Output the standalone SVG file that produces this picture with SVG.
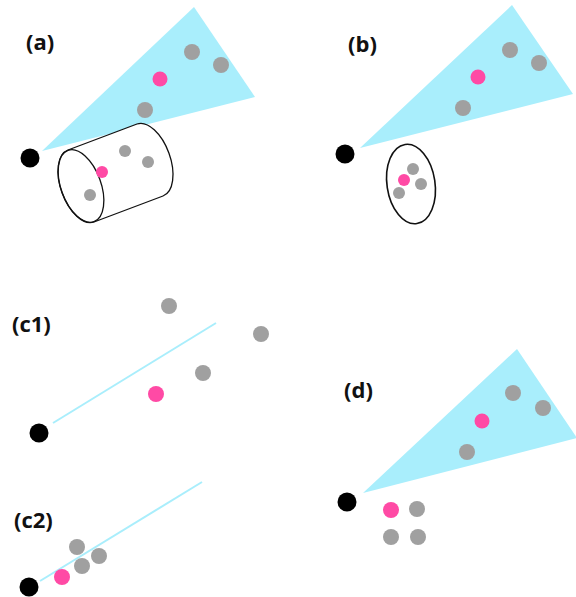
<svg xmlns="http://www.w3.org/2000/svg" width="576" height="597" viewBox="0 0 576 597">
<style>
.lbl{font-family:"Open Sans","Liberation Sans",sans-serif;font-weight:bold;font-size:22px;fill:#111}
.cone{fill:#a9eefc}
.g{fill:#a0a0a0}
.p{fill:#ff4aa5}
.k{fill:#000}
.ln{stroke:#a9eefc;stroke-width:2;fill:none}
.outline{fill:none;stroke:#111;stroke-width:1.3}
</style>
<rect width="576" height="597" fill="#fff"/>
<g id="panel-a">
<text class="lbl" x="26" y="50">(a)</text>
<polygon class="cone" points="42,151 194,7 255,97"/>
<circle class="g" cx="192" cy="52" r="8"/>
<circle class="g" cx="221" cy="65" r="8"/>
<circle class="g" cx="145" cy="110" r="8"/>
<circle class="p" cx="160" cy="79" r="7.5"/>
<circle class="k" cx="30" cy="158" r="9.5"/>
<path d="M94,222 A20,38 -20 0 1 68,150 L137,124 A20,38 -20 0 1 163,196 Z" fill="#fff" stroke="#111" stroke-width="1.3"/>
<ellipse class="outline" cx="81" cy="186" rx="20" ry="38" transform="rotate(-20 81 186)"/>
<circle class="g" cx="125" cy="151" r="6"/>
<circle class="g" cx="148" cy="162" r="6"/>
<circle class="g" cx="90" cy="195" r="6"/>
<circle class="p" cx="102" cy="172" r="6"/>
</g>
<g id="panel-b">
<text class="lbl" x="348" y="52">(b)</text>
<polygon class="cone" points="360,148 512,5 573,94"/>
<circle class="g" cx="510" cy="50" r="8"/>
<circle class="g" cx="539" cy="63" r="8"/>
<circle class="g" cx="463" cy="108" r="8"/>
<circle class="p" cx="478" cy="77" r="7.5"/>
<circle class="k" cx="345" cy="154" r="9.5"/>
<ellipse fill="none" stroke="#111" stroke-width="1.6" cx="411" cy="184" rx="24" ry="40" transform="rotate(-8.5 411 184)"/>
<circle class="g" cx="413" cy="169" r="6"/>
<circle class="g" cx="421" cy="184" r="6"/>
<circle class="g" cx="399" cy="193" r="6"/>
<circle class="p" cx="404" cy="180" r="6"/>
</g>
<g id="panel-c1">
<text class="lbl" x="12" y="332">(c1)</text>
<line class="ln" x1="53" y1="423" x2="216" y2="323"/>
<circle class="g" cx="169" cy="306" r="8"/>
<circle class="g" cx="261" cy="334" r="8"/>
<circle class="g" cx="203" cy="373" r="8"/>
<circle class="p" cx="156" cy="394" r="8"/>
<circle class="k" cx="39" cy="433" r="9.5"/>
</g>
<g id="panel-c2">
<text class="lbl" x="14" y="528">(c2)</text>
<line class="ln" x1="40" y1="581" x2="202" y2="482"/>
<circle class="g" cx="77" cy="547" r="8"/>
<circle class="g" cx="99" cy="556" r="8"/>
<circle class="g" cx="82" cy="566" r="8"/>
<circle class="p" cx="62" cy="577" r="8"/>
<circle class="k" cx="29" cy="587" r="9.5"/>
</g>
<g id="panel-d">
<text class="lbl" x="344" y="398">(d)</text>
<polygon class="cone" points="363,493 517,349 577,438"/>
<circle class="g" cx="513" cy="393" r="8"/>
<circle class="g" cx="543" cy="408" r="8"/>
<circle class="g" cx="467" cy="452" r="8"/>
<circle class="p" cx="482" cy="421" r="7.5"/>
<circle class="k" cx="347" cy="502" r="9.5"/>
<circle class="p" cx="391" cy="510" r="8"/>
<circle class="g" cx="417" cy="509" r="8"/>
<circle class="g" cx="391" cy="537" r="8"/>
<circle class="g" cx="418" cy="537" r="8"/>
</g>
</svg>
